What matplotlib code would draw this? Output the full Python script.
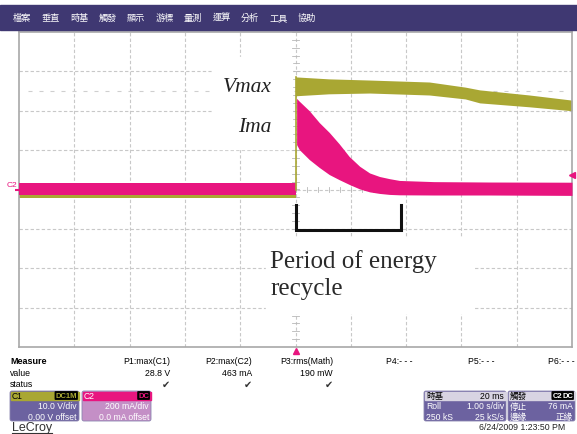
import matplotlib.pyplot as plt
from matplotlib.patches import Rectangle, FancyBboxPatch
import numpy as np

plt.rcParams['font.family'] = ['Liberation Sans', 'Noto Sans CJK TC', 'DejaVu Sans']

# ---- trace data (time in s, 1 s/div, trigger at 0) ----
# C1: volts, 10 V/div ; C2: mA, 200 mA/div
c1_pre_t = [-5.0, -2.5, 0.0]
c1_pre_hi = [1.6, 1.6, 1.6]
c1_pre_lo = [-2.2, -2.2, -2.2]

c1_t = [0.0, 0.6, 1.34, 2.42, 3.07, 3.33, 4.23, 5.0]
c1_hi = [28.6, 28.1, 27.8, 27.3, 26.0, 25.3, 24.0, 22.7]
c1_lo = [23.8, 24.3, 24.5, 24.0, 23.0, 22.0, 21.0, 20.0]

c2_pre_t = [-5.0, -2.5, 0.0]
c2_pre_hi = [32, 32, 32]
c2_pre_lo = [-26, -26, -26]

c2_t = [0.02, 0.07, 0.25, 0.43, 0.61, 0.79, 0.97, 1.16, 1.34, 1.52, 1.70, 1.88, 2.5, 3.5, 5.0]
c2_hi = [463, 448, 400, 340, 290, 232, 168, 118, 84, 66, 55, 46, 40, 38, 37]
c2_lo = [228, 202, 152, 112, 76, 50, 26, 3, -12, -20, -25, -27, -28, -28, -30]

c1_scale = 10.0    # V/div
c2_scale = 200.0   # mA/div
trig_level = 76    # mA
period_end = 1.9   # s

menu = ['檔案', '垂直', '時基', '觸發', '顯示', '游標', '量測', '運算', '分析', '工具', '協助']
meas_names = ['P1:max(C1)', 'P2:max(C2)', 'P3:rms(Math)', 'P4:- - -', 'P5:- - -', 'P6:- - -']
meas_vals = ['28.8 V', '463 mA', '190 mW', '', '', '']

olive = '#a9a733'
pink = '#e8157f'
purple = '#3f3872'
boxpurple = '#6c62a0'

fig = plt.figure(figsize=(5.77, 4.35), dpi=100)
W, H = 577, 435
ax = fig.add_axes([19 / W, 1 - 348 / H, 553 / W, 315 / H])
ax.set_xlim(-5, 5)
ax.set_ylim(-4, 4)
ax.set_xticks([])
ax.set_yticks([])
for s in ax.spines.values():
    s.set_color('#a8a8a8')
    s.set_linewidth(1.2)

# grid
for gx in np.arange(-4, 5):
    ax.axvline(gx, color='#c8c8c8', lw=0.8, ls=(0, (3, 2)), zorder=0)
for gy in np.arange(-3, 4):
    ax.axhline(gy, color='#c8c8c8', lw=0.8, ls=(0, (3, 2)), zorder=0)
# center cross minor ticks
for m in np.arange(-5, 5.01, 0.2):
    ax.plot([m, m], [-0.06, 0.06], color='#b8b8b8', lw=0.6, zorder=0)
for m in np.arange(-4, 4.01, 0.2):
    ax.plot([-0.06, 0.06], [m, m], color='#b8b8b8', lw=0.6, zorder=0)
# faint dotted cursor line
dots = np.arange(-4.8, 5, 0.2)
ax.plot(dots, np.full(len(dots), 2.5), ls='none', marker='_', ms=2.5, mew=0.8,
        color='#cfcfcf', zorder=0)

# traces
ax.fill_between(c1_pre_t, np.array(c1_pre_lo) / c1_scale, np.array(c1_pre_hi) / c1_scale,
                color=olive, lw=0, zorder=2)
ax.fill_between(c2_pre_t, np.array(c2_pre_lo) / c2_scale, np.array(c2_pre_hi) / c2_scale,
                color=pink, lw=0, zorder=3)
ax.fill_between(c1_t, np.array(c1_lo) / c1_scale, np.array(c1_hi) / c1_scale,
                color=olive, lw=0, zorder=2)
ax.fill_between(c2_t, np.array(c2_lo) / c2_scale, np.array(c2_hi) / c2_scale,
                color=pink, lw=0, zorder=3)
ax.plot([0.0, 0.0], [0, c1_hi[0] / c1_scale], color=olive, lw=1.2, zorder=4)

# trigger level marker (right) and trigger position (bottom)
ax.plot([5.0], [trig_level / c2_scale], marker='<', ms=4, color=pink, clip_on=False, zorder=5)
ax.plot([0.0], [-4.1], marker='^', ms=4, color=pink, clip_on=False, zorder=5)
ax.plot([-5.0], [-0.02], marker='_', ms=6, mew=1.5, color=pink, clip_on=False, zorder=5)
ax.text(-5.04, 0.12, 'C2', color=pink, fontsize=6, ha='right', va='center')

# overlay in pixel coordinates
ov = fig.add_axes([0, 0, 1, 1], facecolor='none')
ov.set_xlim(0, W)
ov.set_ylim(H, 0)
ov.axis('off')

# white patches under the annotations
ov.add_patch(Rectangle((212, 58), 80, 92, color='white', zorder=1))
ov.add_patch(Rectangle((266, 238), 206, 76, color='white', zorder=1))
ov.text(272, 88, 'Vmax', fontsize=15.5, style='italic', family='Liberation Serif',
        ha='right', va='center', color='#222222', zorder=2)
ov.text(271, 128, 'Ima', fontsize=15.5, style='italic', family='Liberation Serif',
        ha='right', va='center', color='#222222', zorder=2)
ov.text(270, 262, 'Period of energy', fontsize=18, family='Liberation Serif',
        ha='left', va='center', color='#2a2a2a', zorder=2)
ov.text(270, 289, 'recycle', fontsize=18, family='Liberation Serif',
        ha='left', va='center', color='#2a2a2a', zorder=2)

# bracket
t2px = lambda t: 295.5 + t * 55.3
ov.plot([t2px(0), t2px(0), t2px(period_end), t2px(period_end)], [206, 231, 231, 206],
        color='#111111', lw=2.2, solid_joinstyle='miter', zorder=3)

# header bar
ov.add_patch(Rectangle((0, 6), W, 25, color=purple, zorder=1))
for i, m in enumerate(menu):
    ov.text(13 + 28.5 * i, 18.5, m, color='white', fontsize=6.6, ha='left', va='center', zorder=2)

# measure table
ov.text(10, 362, 'Measure', fontsize=6.5, weight='bold', ha='left', va='center')
ov.text(10, 374, 'value', fontsize=6.3, ha='left', va='center')
ov.text(10, 385, 'status', fontsize=6.3, ha='left', va='center')
col_right = [170, 252, 333, 413, 494, 575]
for i, (n, v) in enumerate(zip(meas_names, meas_vals)):
    ov.text(col_right[i], 362, n, fontsize=6.3, ha='right', va='center')
    if v:
        ov.text(col_right[i], 374, v, fontsize=6.3, ha='right', va='center')
        ov.text(col_right[i] - 4, 385, '✔', fontsize=7, ha='center', va='center',
                color='#333333', family='DejaVu Sans')


def box(x0, x1, head, body, left_head, left_col, right_head, rows, tags=None, tagcol='white'):
    ov.add_patch(FancyBboxPatch((x0, 392), x1 - x0, 30, boxstyle='round,pad=0,rounding_size=2',
                                fc=body, ec='#8a84b0', lw=0.6, zorder=1))
    ov.add_patch(Rectangle((x0 + 0.5, 392.5), x1 - x0 - 1, 8.5, color=head, zorder=2))
    ov.text(x0 + 2, 396.5, left_head, color=left_col, fontsize=6.2, ha='left', va='center', zorder=3)
    if right_head:
        ov.text(x1 - 2, 396.5, right_head, color='black', fontsize=6.2, ha='right', va='center', zorder=3)
    if tags:
        xr = x1 - 2
        for tg in reversed(tags):
            ov.text(xr, 396.5, tg, color=tagcol, fontsize=5.5, weight='bold', ha='right',
                    va='center', zorder=4,
                    bbox=dict(boxstyle='round,pad=0.12', fc='black', ec='none'))
            xr -= 11
    for j, (l, r) in enumerate(rows):
        yy = 407 + 10.5 * j
        if l:
            ov.text(x0 + 2, yy, l, color='white', fontsize=6.2, ha='left', va='center', zorder=3)
        ov.text(x1 - 2, yy, r, color='white', fontsize=6.2, ha='right', va='center', zorder=3)


box(10, 79, olive, boxpurple, 'C1', 'black', None,
    [('', '10.0 V/div'), ('', '0.00 V offset')], tags=['DC1M'], tagcol=olive)
box(82, 151, pink, '#c48fc6', 'C2', 'white', None,
    [('', '200 mA/div'), ('', '0.0 mA offset')], tags=['DC'], tagcol=pink)
box(424, 506, '#d8d4e2', boxpurple, '時基', 'black', '20 ms',
    [('Roll', '1.00 s/div'), ('250 kS', '25 kS/s')])
box(508, 575, '#d8d4e2', boxpurple, '觸發', 'black', None,
    [('停止', '76 mA'), ('邊緣', '正緣')], tags=['C2', 'DC'])

ov.text(12, 428, 'LeCroy', fontsize=9, color='#333333', ha='left', va='center')
ov.plot([12, 52], [434, 434], color='#333333', lw=0.8)
ov.text(565, 428, '6/24/2009 1:23:50 PM', fontsize=6.3, ha='right', va='center', color='#222222')

fig.savefig('out.png', dpi=100)
